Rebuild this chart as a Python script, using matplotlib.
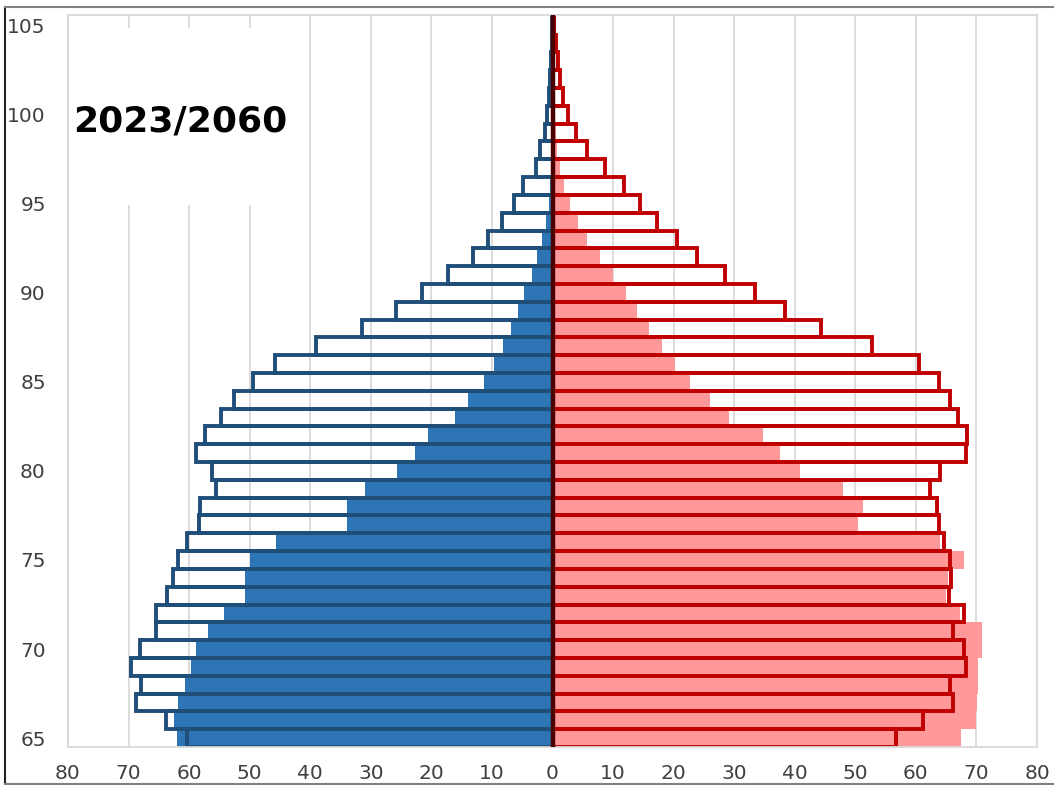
import matplotlib
matplotlib.use("Agg")
import matplotlib.pyplot as plt
from matplotlib.patches import Rectangle
from matplotlib.lines import Line2D

ages = list(range(65, 106))

male_2023 = [62.0, 62.5, 61.8, 60.6, 59.7, 58.8, 56.9, 54.2, 50.7, 50.7, 49.9, 45.6,
             34.0, 34.0, 31.0, 25.7, 22.7, 20.6, 16.1, 13.9, 11.3, 9.6, 8.2, 6.9,
             5.7, 4.7, 3.4, 2.6, 1.8, 1.0, 0.6, 0.4, 0.25, 0.15, 0.1, 0.05,
             0.03, 0.02, 0.01, 0.0, 0.0]
male_2060 = [60.3, 63.8, 68.7, 67.9, 69.6, 68.1, 65.5, 65.5, 63.7, 62.7, 61.8, 60.3,
             58.4, 58.2, 55.5, 56.3, 58.9, 57.3, 54.7, 52.6, 49.4, 45.8, 39.1, 31.4,
             25.9, 21.5, 17.3, 13.2, 10.6, 8.3, 6.3, 4.8, 2.8, 2.0, 1.3, 0.9,
             0.6, 0.4, 0.2, 0.1, 0.05]
female_2023 = [67.4, 70.0, 70.1, 70.2, 70.2, 70.9, 70.9, 67.3, 65.0, 65.3, 67.9, 64.0,
               50.5, 51.3, 48.0, 40.8, 37.5, 34.8, 29.1, 26.0, 22.7, 20.3, 18.1, 16.0,
               13.9, 12.2, 10.0, 7.8, 5.7, 4.2, 2.9, 1.9, 1.3, 0.8, 0.5, 0.3,
               0.2, 0.1, 0.05, 0.02, 0.01]
female_2060 = [56.8, 61.2, 66.2, 65.7, 68.2, 67.9, 66.2, 68.0, 65.4, 65.8, 65.7, 64.7,
               63.8, 63.5, 62.4, 64.0, 68.2, 68.4, 67.0, 65.7, 63.8, 60.5, 52.8, 44.4,
               38.4, 33.5, 28.5, 23.8, 20.5, 17.3, 14.5, 11.8, 8.7, 5.7, 3.8, 2.5,
               1.8, 1.3, 0.9, 0.6, 0.3]

xticks = list(range(-80, 81, 10))
yticks = list(range(65, 106, 5))
title_text = "2023/2060"

fig = plt.figure(figsize=(10.54, 7.85), dpi=100)
ax = fig.add_axes([68/1054, 1 - 747/785, (1037-68)/1054, (747-15)/785])

grid_c = "#d9d9d9"
ax.set_xlim(-80, 80)
ax.set_ylim(64.5, 105.6)
for x in xticks:
    ax.axvline(x, color=grid_c, lw=1.3, zorder=0)

# white label box covering gridlines
ax.add_patch(Rectangle((-79.6, 94.95), 34.5, 9.9, facecolor="white",
                       edgecolor="none", zorder=0.5))

male_fill = [-v for v in male_2023]
male_out = [-v for v in male_2060]

ax.barh(ages, male_fill, height=1.0, color="#2E75B6", edgecolor="none", zorder=1)
ax.barh(ages, female_2023, height=1.0, color="#FF9999", edgecolor="none", zorder=1)
ax.barh(ages, male_out, height=1.0, fill=False, edgecolor="#1F4E79", lw=2.8, zorder=2)
ax.barh(ages, female_2060, height=1.0, fill=False, edgecolor="#C00000", lw=2.8, zorder=2)
ax.axvline(0, color="#4a0000", lw=3.2, zorder=3)

ax.text(-79.2, 99.6, title_text, fontsize=26, fontweight="bold",
        family="DejaVu Sans", ha="left", va="center", zorder=4)

ax.set_xticks(xticks)
ax.set_xticklabels([str(abs(x)) for x in xticks])
ax.set_yticks(yticks)
ax.tick_params(axis="both", length=0, labelsize=14.5, colors="#404040")
ax.tick_params(axis="y", pad=16)
ax.tick_params(axis="x", pad=12)
for lab in ax.get_xticklabels() + ax.get_yticklabels():
    lab.set_family("DejaVu Sans")
for s in ax.spines.values():
    s.set_color(grid_c)
    s.set_linewidth(1.3)

# outer frame
fig.add_artist(Line2D([5/1054, 5/1054], [1 - 7/785, 0], color="#222222", lw=1.5,
                      transform=fig.transFigure))
fig.add_artist(Line2D([5/1054, 1], [1 - 7/785, 1 - 7/785], color="#808080", lw=1.5,
                      transform=fig.transFigure))
fig.add_artist(Line2D([5/1054, 1], [1 - 784/785, 1 - 784/785], color="#808080", lw=1.5,
                      transform=fig.transFigure))

fig.savefig("out.png", dpi=100)
